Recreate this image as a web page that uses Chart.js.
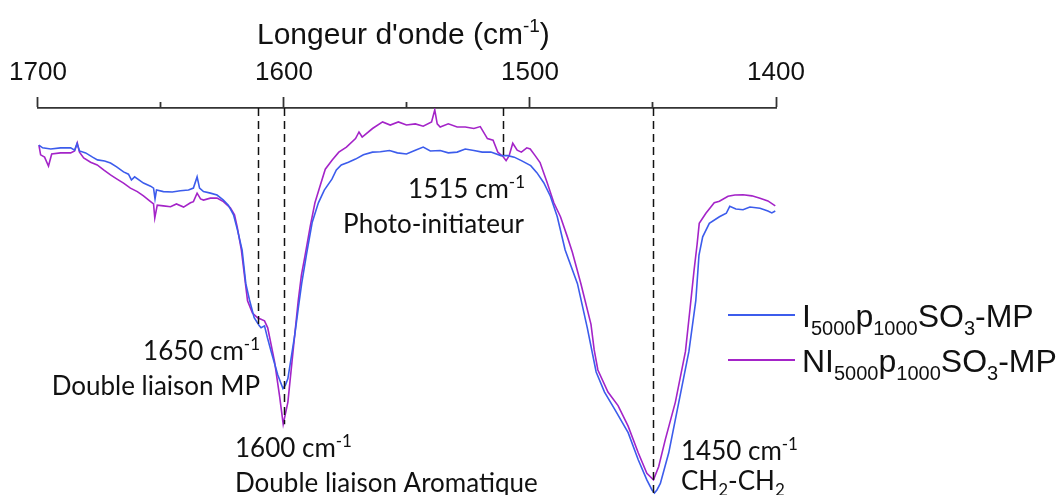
<!DOCTYPE html>
<html lang="fr">
<head>
<meta charset="utf-8">
<title>Spectre IR</title>
<script src="https://cdn.jsdelivr.net/npm/chart.js@4.4.1/dist/chart.umd.min.js"></script>
<style>
  html, body { margin: 0; padding: 0; background: #fff; }
  #wrap { position: relative; width: 1062px; height: 495px; }
</style>
</head>
<body>
<div id="wrap"><canvas id="spectre"></canvas></div>
<script>
// Nombres d'onde (cm-1) et intensité relative, échantillon I5000p1000SO3-MP
var wnI = [1699.6, 1698.1, 1694.8, 1690.8, 1686.7, 1685.1, 1684.1, 1683.1, 1680.6, 1677.8,
  1675.8, 1672.9, 1670.5, 1668.0, 1665.2, 1663.2, 1662.0, 1660.7, 1657.1, 1654.2,
  1653.0, 1652.4, 1651.8, 1649.0, 1645.4, 1642.1, 1638.8, 1636.8, 1635.3, 1634.3,
  1632.7, 1629.9, 1627.2, 1624.6, 1622.6, 1620.5, 1618.9, 1617.0, 1615.5, 1614.0,
  1612.1, 1610.0, 1609.3, 1607.9, 1606.7, 1605.2, 1602.5, 1600.4, 1599.4, 1598.4,
  1597.0, 1595.6, 1594.1, 1592.8, 1590.8, 1588.5, 1586.0, 1583.6, 1580.5, 1578.7,
  1576.7, 1573.8, 1570.9, 1567.7, 1564.0, 1560.8, 1557.1, 1553.9, 1550.2, 1546.6,
  1543.4, 1540.5, 1536.5, 1533.2, 1529.6, 1526.3, 1522.8, 1519.4, 1515.9, 1511.8,
  1509.0, 1506.4, 1503.5, 1499.7, 1497.2, 1494.4, 1491.7, 1488.9, 1485.7, 1480.7,
  1476.7, 1473.1, 1469.7, 1465.6, 1460.1, 1456.0, 1452.5, 1450.4, 1449.4, 1448.4,
  1447.0, 1443.6, 1439.5, 1435.4, 1432.6, 1431.3, 1429.8, 1427.1, 1423.0, 1420.2,
  1418.8, 1416.3, 1413.4, 1410.6, 1406.5, 1403.3, 1401.7, 1400.3];
var intI = [90.4, 89.7, 89.4, 89.7, 89.7, 89.1, 90.8, 88.9, 88.4, 87.3,
  86.6, 86.3, 85.8, 84.8, 83.5, 82.9, 81.4, 82.2, 80.6, 79.8,
  79.3, 76.5, 78.8, 78.4, 78.3, 78.6, 78.8, 79.3, 82.2, 79.3,
  78.4, 78.0, 77.5, 76.2, 74.9, 72.4, 68.5, 63.3, 54.6, 50.4,
  45.8, 43.7, 43.2, 43.7, 40.6, 37.1, 31.0, 27.5, 28.4, 30.1,
  35.7, 41.4, 48.6, 54.6, 62.3, 70.5, 75.5, 78.8, 81.6, 84.0,
  85.3, 86.0, 86.8, 87.9, 88.6, 88.7, 89.0, 88.4, 88.1, 89.1,
  89.9, 88.9, 89.0, 88.4, 88.6, 89.4, 89.0, 88.6, 88.6, 87.7,
  87.7, 87.3, 86.4, 85.1, 83.3, 80.7, 77.2, 71.9, 63.3, 54.6,
  43.2, 31.8, 26.6, 22.2, 16.1, 9.1, 3.9, 1.3, 0.5, 1.3,
  3.0, 10.9, 24.0, 37.1, 50.2, 62.0, 66.7, 70.2, 71.9, 72.8,
  74.6, 73.9, 73.7, 74.4, 74.1, 73.4, 72.9, 73.4];

// Echantillon NI5000p1000SO3-MP
var wnNI = [1699.6, 1698.9, 1697.3, 1695.7, 1694.4, 1690.8, 1686.7, 1685.1, 1684.0, 1683.1,
  1681.4, 1678.6, 1675.9, 1673.3, 1670.5, 1668.0, 1665.2, 1662.4, 1659.6, 1657.1,
  1654.2, 1653.0, 1652.5, 1651.5, 1649.0, 1646.1, 1643.7, 1640.8, 1638.0, 1636.8,
  1635.3, 1633.9, 1632.7, 1629.9, 1627.2, 1624.6, 1621.8, 1620.1, 1619.0, 1617.3,
  1614.8, 1612.8, 1610.7, 1607.9, 1606.6, 1603.8, 1601.8, 1600.3, 1598.4, 1596.3,
  1594.2, 1592.9, 1591.5, 1589.3, 1587.4, 1585.2, 1583.2, 1580.3, 1577.7, 1574.6,
  1570.9, 1569.5, 1568.2, 1564.0, 1559.9, 1556.8, 1553.5, 1550.2, 1546.6, 1543.4,
  1540.0, 1538.7, 1537.7, 1536.5, 1533.2, 1529.6, 1526.3, 1522.8, 1520.2, 1517.3,
  1515.0, 1513.1, 1510.9, 1509.7, 1508.5, 1507.0, 1505.2, 1503.5, 1501.3, 1499.9,
  1497.9, 1495.9, 1493.0, 1490.3, 1487.6, 1484.8, 1482.8, 1479.3, 1475.2, 1473.9,
  1472.4, 1468.3, 1464.2, 1460.1, 1456.0, 1452.5, 1449.8, 1447.7, 1445.0, 1440.9,
  1436.8, 1435.0, 1433.3, 1432.1, 1431.2, 1428.5, 1425.1, 1423.0, 1419.5, 1416.7,
  1413.4, 1409.8, 1406.5, 1403.3, 1400.3];
var intNI = [90.4, 87.9, 87.3, 85.0, 88.1, 88.4, 88.4, 88.9, 91.0, 88.6,
  87.1, 86.0, 85.3, 84.0, 82.7, 81.7, 80.6, 79.3, 78.4, 77.3,
  75.8, 75.2, 71.6, 74.9, 74.7, 74.5, 75.2, 74.4, 75.5, 75.8,
  78.0, 76.5, 76.2, 76.7, 76.7, 75.8, 74.2, 72.4, 69.3, 63.3,
  50.2, 47.0, 45.8, 45.0, 43.2, 34.4, 25.7, 18.3, 24.0, 37.1,
  50.2, 56.8, 61.6, 69.5, 75.5, 80.1, 84.2, 86.6, 88.6, 89.9,
  92.1, 93.8, 92.5, 94.7, 96.4, 95.6, 96.4, 95.6, 95.9, 95.3,
  96.4, 99.5, 95.9, 95.1, 95.9, 95.1, 95.1, 94.7, 95.2, 92.1,
  91.7, 88.6, 87.4, 86.4, 87.6, 90.9, 89.1, 88.6, 89.7, 89.4,
  87.7, 85.9, 80.7, 75.5, 71.9, 66.7, 62.8, 54.6, 44.1, 37.5,
  32.3, 26.6, 23.1, 17.8, 10.9, 5.6, 3.9, 7.3, 14.3, 24.0,
  37.1, 47.8, 58.1, 64.6, 70.2, 72.8, 75.5, 75.9, 77.2, 77.5,
  77.6, 77.3, 76.7, 76.0, 74.7];

// Graduations de l'axe : toutes les 50 cm-1, libellées toutes les 100
var axisTicks = [1700, 1650, 1600, 1550, 1500, 1450, 1400];
var tickLabels = [1700, 1600, 1500, 1400];

// Bandes repérées : position et bas du trait pointillé
var bandWn = [1610.5, 1600, 1511, 1450];
var bandBottom = [44.0, 18.3, 87.4, 0.5];

// Noms des séries (texte, 0 normal / -1 indice)
var seriesNames = [
  [['I', 0], ['5000', -1], ['p', 0], ['1000', -1], ['SO', 0], ['3', -1], ['-MP', 0]],
  [['NI', 0], ['5000', -1], ['p', 0], ['1000', -1], ['SO', 0], ['3', -1], ['-MP', 0]]
];
var seriesColors = ['#3c5cec', '#a424c8'];

var SANS = '"Liberation Sans", Arial, sans-serif';
var HUMAN = 'Lato, "Open Sans", sans-serif';

// Annotations des bandes (1 = exposant, -1 = indice)
var notes = [
  { parts: [['1515 cm', 0], ['-1', 1]], x: 525, y: 198, align: 'right' },
  { parts: [['Photo-initiateur', 0]], x: 524, y: 233, align: 'right' },
  { parts: [['1650 cm', 0], ['-1', 1]], x: 260, y: 360, align: 'right' },
  { parts: [['Double liaison MP', 0]], x: 260, y: 395, align: 'right' },
  { parts: [['1600 cm', 0], ['-1', 1]], x: 235, y: 457, align: 'left' },
  { parts: [['Double liaison Aromatique', 0]], x: 235, y: 492, align: 'left' },
  { parts: [['1450 cm', 0], ['-1', 1]], x: 681, y: 460, align: 'left' },
  { parts: [['CH', 0], ['2', -1], ['-CH', 0], ['2', -1]], x: 681, y: 490, align: 'left' }
];

// texte avec exposants / indices
function richText(ctx, parts, x, y, size, family, align) {
  var small = Math.round(size * 0.64);
  var widths = parts.map(function (p) {
    ctx.font = (p[1] ? small : size) + 'px ' + family;
    return ctx.measureText(p[0]).width;
  });
  var total = widths.reduce(function (a, b) { return a + b; }, 0);
  var cx = align === 'right' ? x - total : x;
  ctx.textAlign = 'left';
  ctx.textBaseline = 'alphabetic';
  parts.forEach(function (p, i) {
    ctx.font = (p[1] ? small : size) + 'px ' + family;
    var dy = p[1] > 0 ? -size * 0.4 : (p[1] < 0 ? size * 0.24 : 0);
    ctx.fillText(p[0], cx, y + dy);
    cx += widths[i];
  });
}

var decor = {
  id: 'decor',
  afterDatasetsDraw: function (chart) {
    var ctx = chart.ctx;
    var xs = chart.scales.x;
    var ys = chart.scales.y;
    ctx.save();

    // traits pointillés des bandes
    ctx.strokeStyle = '#111';
    ctx.lineWidth = 1.5;
    ctx.setLineDash([8, 5]);
    bandWn.forEach(function (wn, i) {
      var px = Math.round(xs.getPixelForValue(wn)) + 0.5;
      ctx.beginPath();
      ctx.moveTo(px, ys.getPixelForValue(ys.max));
      ctx.lineTo(px, ys.getPixelForValue(bandBottom[i]));
      ctx.stroke();
    });
    ctx.setLineDash([]);

    // titre de l'axe
    ctx.fillStyle = '#111';
    richText(ctx, [["Longeur d'onde (cm", 0], ['-1', 1], [')', 0]], 257, 44, 30, SANS, 'left');

    // annotations
    notes.forEach(function (n) {
      richText(ctx, n.parts, n.x, n.y, 26, HUMAN, n.align);
    });

    // légende
    chart.data.datasets.forEach(function (ds, i) {
      var ly = 315 + i * 45;
      ctx.strokeStyle = ds.borderColor;
      ctx.lineWidth = 2;
      ctx.beginPath();
      ctx.moveTo(728, ly);
      ctx.lineTo(795, ly);
      ctx.stroke();
      ctx.fillStyle = '#111';
      richText(ctx, seriesNames[i], 802, ly + 12, 32, SANS, 'left');
    });
    ctx.restore();
  }
};

function pairs(xv, yv) {
  return xv.map(function (w, i) { return { x: w, y: yv[i] }; });
}

var ctx = document.getElementById('spectre').getContext('2d');
var chart = new Chart(ctx, {
  type: 'line',
  data: {
    datasets: [{
      label: 'I5000p1000SO3-MP',
      data: pairs(wnI, intI),
      borderColor: seriesColors[0],
      borderWidth: 1.6,
      pointRadius: 0,
      tension: 0
    }, {
      label: 'NI5000p1000SO3-MP',
      data: pairs(wnNI, intNI),
      borderColor: seriesColors[1],
      borderWidth: 1.6,
      pointRadius: 0,
      tension: 0
    }]
  },
  options: {
    responsive: true,
    maintainAspectRatio: false,
    animation: false,
    layout: { padding: { left: 37, right: 286, top: 0, bottom: 0 } },
    plugins: {
      legend: { display: false },
      tooltip: { enabled: false }
    },
    scales: {
      x: {
        type: 'linear',
        position: 'top',
        reverse: true,
        min: 1400,
        max: 1700,
        afterBuildTicks: function (scale) {
          scale.ticks = axisTicks.map(function (v) { return { value: v }; });
        },
        afterFit: function (scale) {
          scale.height = 108;
        },
        ticks: {
          autoSkip: false,
          maxRotation: 0,
          padding: 9,
          color: '#111',
          font: { family: SANS, size: 26 },
          callback: function (v) {
            return tickLabels.indexOf(v) >= 0 ? String(v) : '';
          }
        },
        grid: {
          drawOnChartArea: false,
          drawTicks: true,
          tickLength: 11,
          tickWidth: 1.8,
          tickColor: '#333',
          // les graduations intermédiaires sont plus courtes
          tickBorderDash: function (c) {
            return c.tick && tickLabels.indexOf(c.tick.value) < 0 ? [0, 5, 20] : [];
          }
        },
        border: { display: true, color: '#333', width: 1.8 }
      },
      y: {
        display: false,
        min: 0,
        max: 100
      }
    }
  },
  plugins: [decor]
});
</script>
</body>
</html>
